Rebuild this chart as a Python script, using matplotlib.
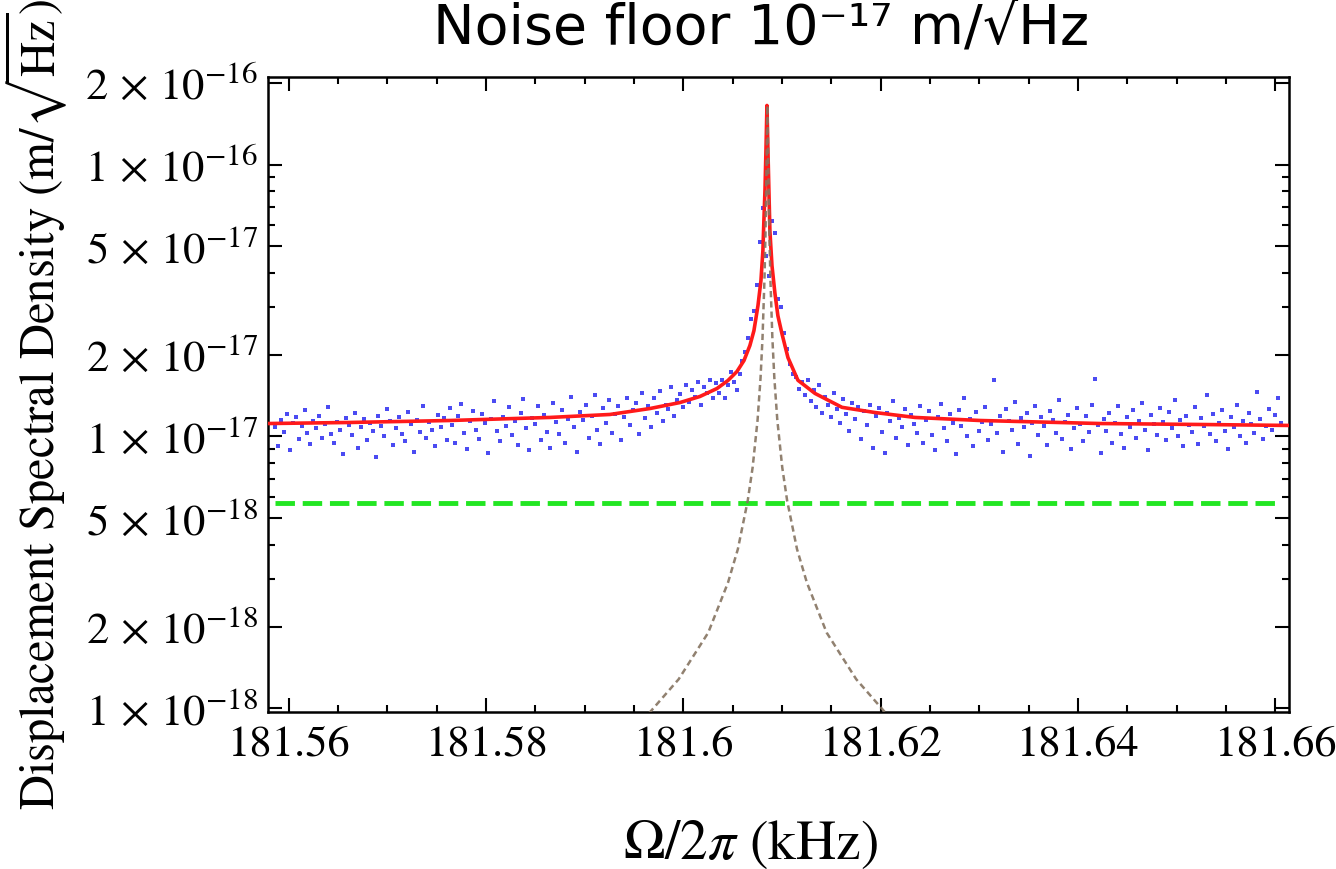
#!/usr/bin/env python
# -*- coding: utf-8 -*-

"""Displacement spectral density around the mechanical resonance."""

import numpy as np
import matplotlib
matplotlib.use('Agg')
import matplotlib.pyplot as plt
from matplotlib.ticker import FixedLocator, MultipleLocator, LogLocator, NullFormatter

matplotlib.rcParams.update({'font.family': 'STIXGeneral', 'mathtext.fontset': 'stix'})

SCALE = 1e-17  # all psd values below are in units of 1e-17 m/sqrt(Hz)

# measured spectrum: first bin and bin width in kHz
f_start = 181.5586
f_step = 0.0003
psd = [
    1.08, 0.92, 1.15, 1.04, 1.21, 0.89, 1.12, 1.18, 0.98, 1.09, 1.25, 1.03, 0.94, 1.14, 1.07, 1.19, 0.99, 1.11, 1.28, 1.02,
    0.95, 1.13, 1.06, 0.86, 1.17, 1.10, 1.01, 1.22, 0.91, 1.08, 1.16, 0.97, 1.12, 1.05, 0.84, 1.19, 1.09, 1.00, 1.26, 1.14,
    0.93, 1.07, 1.18, 1.02, 0.96, 1.23, 1.11, 0.88, 1.15, 1.04, 1.30, 0.99, 1.13, 1.06, 0.92, 1.20, 1.08, 1.17, 0.97, 1.27,
    1.10, 0.95, 1.19, 1.32, 1.03, 0.90, 1.14, 1.24, 1.06, 0.98, 1.21, 1.12, 0.87, 1.16, 1.35, 1.05, 0.96, 1.18, 1.09, 1.28,
    1.01, 1.14, 0.93, 1.22, 1.37, 1.07, 0.89, 1.17, 1.11, 1.29, 0.97, 1.20, 1.04, 0.91, 1.33, 1.13, 1.02, 1.25, 0.95, 1.16,
    1.40, 1.08, 0.88, 1.23, 1.15, 1.31, 0.99, 1.19, 1.42, 1.06, 0.94, 1.27, 1.12, 1.36, 1.03, 1.21, 1.30, 0.97, 1.18, 1.38,
    1.10, 1.25, 1.33, 1.02, 1.44, 1.17, 1.29, 1.08, 1.38, 1.22, 1.47, 1.14, 1.31, 1.26, 1.52, 1.19, 1.36, 1.43, 1.28, 1.55,
    1.34, 1.48, 1.40, 1.58, 1.31, 1.52, 1.45, 1.62, 1.39, 1.57, 1.45, 1.62, 1.38, 1.55, 1.72, 1.58, 1.48, 1.70, 1.90, 2.05,
    2.30, 2.70, 2.90, 3.60, 5.20, 6.90, 4.60, 3.90, 6.20, 5.60, 3.20, 3.00, 2.40, 2.10, 1.85, 1.70, 1.65, 1.50, 1.58, 1.42,
    1.62, 1.35, 1.48, 1.28, 1.55, 1.22, 1.40, 1.31, 1.18, 1.45, 1.26, 1.12, 1.37, 1.21, 1.05, 1.33, 1.16, 1.28, 0.98, 1.24,
    1.10, 1.31, 0.91, 1.19, 1.27, 1.04, 0.87, 1.22, 1.14, 1.35, 0.99, 1.17, 1.08, 1.26, 0.93, 1.20, 1.11, 1.03, 1.29, 0.95,
    1.15, 1.24, 1.01, 0.89, 1.18, 1.32, 1.07, 0.96, 1.21, 1.12, 0.86, 1.25, 1.09, 1.38, 1.00, 1.16, 0.92, 1.23, 1.05, 1.13,
    1.28, 0.97, 1.11, 1.61, 1.03, 1.19, 0.88, 1.26, 1.14, 1.06, 1.34, 0.94, 1.17, 1.08, 1.22, 0.85, 1.12, 1.30, 1.01, 1.18,
    1.09, 0.93, 1.24, 1.15, 1.03, 1.36, 0.98, 1.13, 1.20, 0.90, 1.07, 1.27, 1.11, 0.96, 1.19, 1.04, 1.31, 1.63, 1.10, 0.87,
    1.16, 1.05, 1.22, 0.95, 1.12, 1.29, 1.02, 0.91, 1.18, 1.08, 1.25, 0.99, 1.14, 1.33, 1.06, 0.89, 1.20, 1.11, 1.01, 1.27,
    1.13, 0.97, 1.23, 1.07, 1.36, 1.00, 1.15, 0.92, 1.19, 1.10, 1.04, 1.28, 0.94, 1.17, 1.09, 1.42, 1.02, 1.21, 0.96, 1.12,
    1.25, 1.05, 0.90, 1.18, 1.08, 1.31, 1.00, 1.14, 0.95, 1.22, 1.11, 1.03, 1.46, 1.16, 0.98, 1.09, 1.26, 1.06, 1.20, 1.38,
    1.12,
]

# fitted total curve (red)
fit_freq = [181.55787, 181.56619, 181.57633, 181.58647, 181.59256, 181.59661, 181.59966, 181.60168,
            181.60341, 181.60452, 181.60544, 181.60615, 181.60675, 181.60716, 181.60757, 181.60787,
            181.60807, 181.60817, 181.60828, 181.60838, 181.60848, 181.60858, 181.60868, 181.60878,
            181.60899, 181.60929, 181.60959, 181.61000, 181.61061, 181.61162, 181.61335, 181.61609,
            181.61943, 181.62349, 181.63008, 181.64225, 181.65239, 181.66142]
fit_psd = [1.116, 1.126, 1.145, 1.175, 1.205, 1.267, 1.333, 1.403,
           1.501, 1.606, 1.734, 1.902, 2.16, 2.45, 3.03, 3.74,
           4.83, 6.22, 8.03, 11.3, 16.5, 11.3, 8.0, 5.7,
           4.25, 3.36, 2.78, 2.39, 1.95, 1.61, 1.44, 1.28,
           1.225, 1.175, 1.145, 1.116, 1.107, 1.098]

# mechanical resonance alone (grey dashed)
res_freq = [181.59653, 181.59953, 181.60253, 181.60453, 181.60553, 181.60653, 181.60703, 181.60753,
            181.60783, 181.60803, 181.60823, 181.60833, 181.60843, 181.60853, 181.60863, 181.60873,
            181.60883, 181.60903, 181.60923, 181.60953, 181.61003, 181.61053, 181.61153, 181.61253,
            181.61453, 181.61753, 181.62053]
res_psd = [0.096, 0.128, 0.19, 0.29, 0.385, 0.58, 0.77, 1.15,
           1.64, 2.3, 3.8, 5.5, 9.5, 16.5, 9.5, 5.5,
           3.8, 2.3, 1.64, 1.15, 0.77, 0.58, 0.385, 0.29,
           0.19, 0.128, 0.096]

# shot noise floor (green dashed)
floor_freq = [181.5586, 181.6600]
floor_psd = [0.57, 0.57]

x_ticks = [181.56, 181.58, 181.60, 181.62, 181.64, 181.66]
x_tick_labels = ['181.56', '181.58', '181.6', '181.62', '181.64', '181.66']
y_ticks = [1e-18, 2e-18, 5e-18, 1e-17, 2e-17, 5e-17, 1e-16, 2e-16]
y_tick_labels = [r'$1\,\times\,10^{-18}$', r'$2\,\times\,10^{-18}$', r'$5\,\times\,10^{-18}$',
                 r'$1\,\times\,10^{-17}$', r'$2\,\times\,10^{-17}$', r'$5\,\times\,10^{-17}$',
                 r'$1\,\times\,10^{-16}$', r'$2\,\times\,10^{-16}$']

freq = f_start + f_step * np.arange(len(psd))

fig = plt.figure(figsize=(13.36, 8.69), dpi=100)
ax = fig.add_axes([0.2006, 0.1807, 0.7642, 0.7307])

ax.plot(freq, np.array(psd) * SCALE, 's', ms=3.4, mew=0, color='#2b2bf0', alpha=0.85, zorder=2)
ax.plot(floor_freq, np.array(floor_psd) * SCALE, color='#22e622', lw=3.5, dashes=(4, 1.6), zorder=3)
ax.plot(fit_freq, np.array(fit_psd) * SCALE, color='#ff1a1a', lw=2.6, zorder=4)
ax.plot(res_freq, np.array(res_psd) * SCALE, color='#857360', lw=1.8, dashes=(2.5, 1.6), alpha=0.9, zorder=5)

ax.set_yscale('log')
ax.set_xlim(181.5579, 181.6614)
ax.set_ylim(0.97e-18, 2.1e-16)

ax.xaxis.set_major_locator(FixedLocator(x_ticks))
ax.set_xticklabels(x_tick_labels)
ax.xaxis.set_minor_locator(MultipleLocator(0.005))
ax.yaxis.set_major_locator(FixedLocator(y_ticks))
ax.set_yticklabels(y_tick_labels)
ax.yaxis.set_minor_locator(LogLocator(base=10, subs=(3, 4, 6, 7, 8, 9)))
ax.yaxis.set_minor_formatter(NullFormatter())

ax.tick_params(which='both', direction='in', top=True, right=True, width=1.5, colors='black')
ax.tick_params(which='major', length=10, labelsize=32, pad=7)
ax.tick_params(which='minor', length=5)
ax.tick_params(axis='x', which='major', pad=10)
for side in ax.spines.values():
    side.set_linewidth(1.8)

fig.text(0.57, 1 - 44 / 869, 'Noise floor 10\u207b\u00b9\u2077 m/\u221aHz',
         family='DejaVu Sans', fontsize=40, ha='center', va='baseline')
fig.text(0.027, 0.535, r'Displacement Spectral Density (m/$\sqrt{\mathrm{Hz}}$)',
         fontsize=35, rotation=90, ha='center', va='center')
fig.text(0.562, 0.012, r'$\Omega/2\pi$ (kHz)', fontsize=40, ha='center', va='baseline')

fig.savefig('out.png', dpi=100)
